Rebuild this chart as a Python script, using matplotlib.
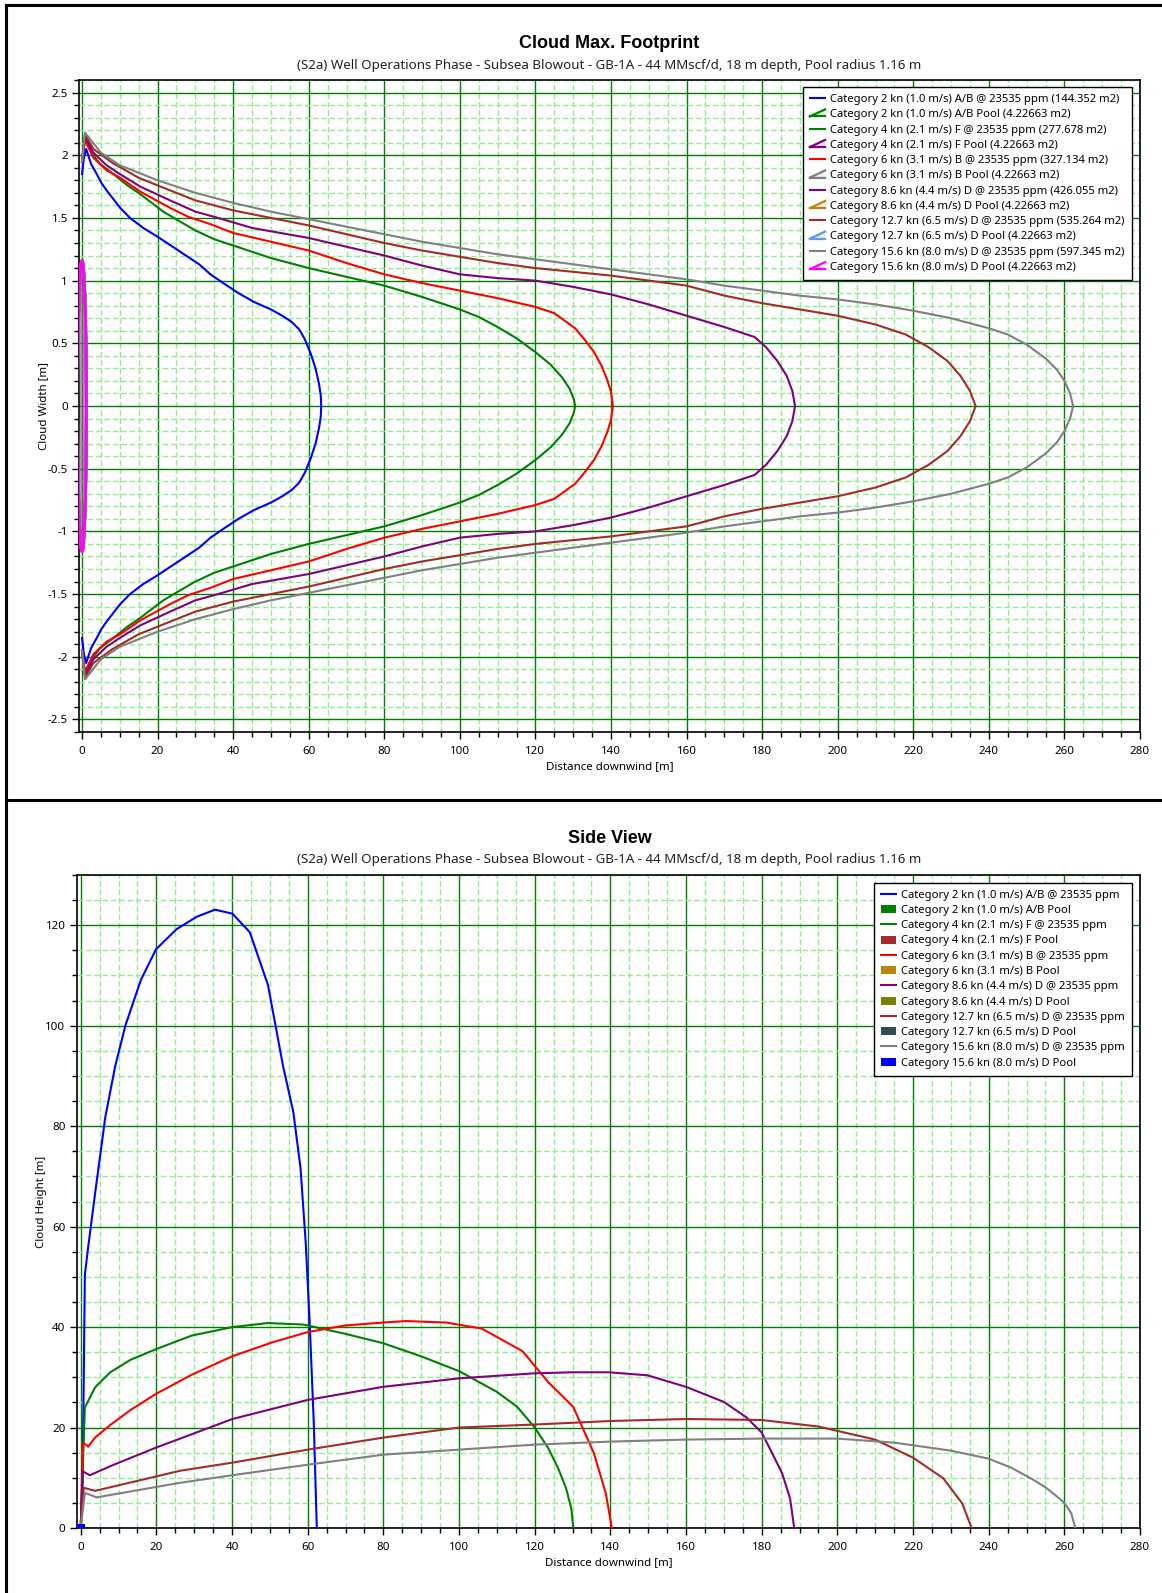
import numpy as np
import matplotlib
matplotlib.use("Agg")
import matplotlib.pyplot as plt
from matplotlib.legend_handler import HandlerBase
from matplotlib.patches import Polygon, Rectangle
from matplotlib.lines import Line2D
from matplotlib.ticker import MultipleLocator, FuncFormatter

plt.rcParams['font.family'] = ['Noto Sans', 'DejaVu Sans']

# ---------------- data ----------------
subtitle = "(S2a) Well Operations Phase - Subsea Blowout - GB-1A - 44 MMscf/d, 18 m depth, Pool radius 1.16 m"
weather = ["2 kn (1.0 m/s) A/B", "4 kn (2.1 m/s) F", "6 kn (3.1 m/s) B",
           "8.6 kn (4.4 m/s) D", "12.7 kn (6.5 m/s) D", "15.6 kn (8.0 m/s) D"]
concentration_ppm = 23535
footprint_area_m2 = ["144.352", "277.678", "327.134", "426.055", "535.264", "597.345"]
pool_area_m2 = "4.22663"
pool_radius = 1.16
pool_thickness = 0.8

plume_colors = ["#0000FF", "#008000", "#FF0000", "#800080", "#A52A2A", "#808080"]
pool_colors_plan = ["#008000", "#800080", "#808080", "#B8860B", "#6495ED", "#FF00FF"]
pool_colors_side = ["#008000", "#A52A2A", "#B8860B", "#808000", "#2F4F4F", "#0000FF"]

# Footprint half-widths (upper edge) along the downwind distance
fp_x = [
    [0, 0.5, 1.1, 2.4, 3.9, 5.1, 6.5, 8.3, 10.1, 12.7, 16.2, 20, 24, 28, 31, 34, 37.4, 41.4, 45.5, 50, 53, 55.5, 57.5, 59, 60.5, 61.8, 62.7, 63.2, 63.3],
    [0, 0.8, 2.5, 4.8, 8.3, 12, 15.4, 21.5, 26, 30, 35, 40, 50, 60, 70, 80, 90, 100, 105, 110, 115, 120, 124, 127, 129, 130.2, 130.5],
    [0, 0.8, 3, 6.5, 10.1, 15.4, 23.3, 28, 34, 40, 50, 60, 70, 80, 90, 100, 110, 120, 125, 130.5, 133, 135.5, 137.5, 139, 140, 140.5],
    [0, 0.8, 3, 6.5, 10, 15.4, 23.3, 30, 36, 45, 60, 70, 80, 90, 100, 110, 120, 130, 140, 150, 160, 170, 178, 181, 184, 186.5, 188, 188.7],
    [0, 0.8, 3, 8, 15, 23.3, 30, 40, 50, 60, 70, 80, 90, 100, 110, 120, 130, 140, 150, 160, 170, 180, 190, 200, 210, 218, 224, 229, 232.5, 235, 236.5],
    [0, 0.8, 5, 10, 20, 30, 40, 50, 60, 70, 80, 90, 100, 110, 120, 130, 140, 150, 160, 170, 180, 190, 200, 210, 220, 230, 240, 245, 250, 255, 258, 260, 261.5, 262.3],
]
fp_w = [
    [1.85, 1.98, 2.05, 1.93, 1.85, 1.78, 1.72, 1.65, 1.58, 1.50, 1.42, 1.35, 1.27, 1.19, 1.13, 1.05, 0.98, 0.90, 0.83, 0.77, 0.72, 0.67, 0.61, 0.53, 0.42, 0.30, 0.18, 0.08, 0.0],
    [1.95, 2.13, 2.02, 1.93, 1.85, 1.76, 1.69, 1.55, 1.47, 1.40, 1.33, 1.28, 1.18, 1.10, 1.03, 0.96, 0.87, 0.77, 0.71, 0.63, 0.54, 0.43, 0.33, 0.23, 0.14, 0.05, 0.0],
    [1.95, 2.12, 1.98, 1.88, 1.82, 1.71, 1.58, 1.51, 1.45, 1.38, 1.31, 1.24, 1.14, 1.05, 0.98, 0.92, 0.86, 0.79, 0.74, 0.62, 0.53, 0.43, 0.32, 0.21, 0.11, 0.0],
    [1.95, 2.15, 2.02, 1.92, 1.85, 1.75, 1.64, 1.55, 1.50, 1.42, 1.34, 1.27, 1.20, 1.12, 1.05, 1.02, 1.00, 0.95, 0.89, 0.81, 0.72, 0.63, 0.55, 0.47, 0.36, 0.24, 0.12, 0.0],
    [1.95, 2.17, 2.05, 1.94, 1.82, 1.72, 1.64, 1.56, 1.50, 1.44, 1.37, 1.30, 1.24, 1.19, 1.14, 1.10, 1.07, 1.04, 1.00, 0.96, 0.88, 0.82, 0.77, 0.72, 0.65, 0.57, 0.47, 0.36, 0.24, 0.12, 0.0],
    [1.95, 2.18, 2.02, 1.92, 1.80, 1.70, 1.62, 1.55, 1.49, 1.43, 1.37, 1.31, 1.26, 1.21, 1.17, 1.13, 1.09, 1.05, 1.01, 0.96, 0.92, 0.88, 0.85, 0.81, 0.76, 0.70, 0.62, 0.57, 0.49, 0.38, 0.29, 0.20, 0.10, 0.0],
]

# Side view: cloud height along the downwind distance
sv_x = [
    [0, 0.5, 1.1, 1.9, 3.8, 6.5, 9.1, 11.8, 15.9, 19.9, 25.3, 30.7, 35.5, 40.1, 44.7, 49.5, 53.5, 56.2, 58.1, 59.5, 60.5, 61.6, 62.4],
    [0, 1.1, 3.8, 7.8, 13.2, 19.9, 29.3, 40.1, 49.5, 58.9, 69.7, 79.9, 89.9, 100.1, 110, 115.4, 120, 123.5, 126.2, 128.3, 129.7, 130.2],
    [0, 0.6, 2.0, 3.8, 7.8, 13.2, 19.9, 29.3, 40.1, 50.8, 60, 69.7, 79.9, 86, 96.6, 106, 116.8, 123.5, 130.2, 135.6, 138.8, 140.4],
    [0, 0.5, 2.4, 7.8, 19.9, 40.1, 60, 79.9, 100.1, 120, 130, 139.6, 149.8, 160, 170, 176, 180, 182.7, 185.4, 187.5, 188.6],
    [0, 0.8, 3.8, 10, 26.3, 40, 60, 80, 100, 120, 140, 160, 180, 195, 210, 220, 228, 233, 235.5],
    [0, 1.1, 4.2, 26.3, 40, 60, 80, 100, 120, 140, 160, 180, 200, 215, 230, 240, 246, 251.8, 255, 258, 260, 261.8, 262.9],
]
sv_h = [
    [0, 8.9, 50.4, 55.5, 66.6, 81.8, 91.9, 100, 109.1, 115.2, 119.2, 121.7, 123.1, 122.3, 118.6, 108.1, 91.9, 82.8, 71.7, 56.5, 41.3, 21.1, 0],
    [0, 24.0, 28.0, 31.0, 33.5, 35.6, 38.3, 40.0, 40.8, 40.5, 38.7, 36.8, 34.2, 31.2, 27.1, 24.1, 20.0, 16.0, 11.9, 7.9, 3.8, 0],
    [0, 17.0, 16.2, 18.0, 20.5, 23.5, 26.7, 30.5, 34.2, 37.0, 39.0, 40.3, 40.9, 41.2, 40.9, 39.7, 35.2, 29.1, 24.1, 15.0, 6.9, 0],
    [0, 11.3, 10.5, 12.3, 16.0, 21.7, 25.5, 28.1, 29.8, 30.8, 31.0, 31.0, 30.4, 28.1, 25.1, 22.0, 19.0, 15.0, 10.9, 5.9, 0],
    [0, 8.0, 7.4, 8.5, 11.4, 13.0, 15.6, 18.0, 20.0, 20.6, 21.3, 21.7, 21.5, 20.2, 17.6, 14.0, 9.9, 4.9, 0],
    [0, 7.0, 6.1, 9.0, 10.5, 12.6, 14.6, 15.6, 16.6, 17.2, 17.6, 17.8, 17.8, 17.0, 15.4, 13.8, 12.0, 9.6, 8.1, 6.3, 5.0, 3.0, 0],
]


# ---------------- legend handlers ----------------
class HandlerPoolArea(HandlerBase):
    """Small wedge icon used for pool outlines in the plan view legend."""
    def create_artists(self, legend, orig_handle, xdescent, ydescent,
                       width, height, fontsize, trans):
        c = orig_handle.get_color()
        x0, x1 = -xdescent, -xdescent + width
        yb = -ydescent + 0.1 * height
        yt = -ydescent + 1.0 * height
        tri = Polygon([[x0, yb], [x1, yb], [x1, yt]], closed=True, facecolor=c,
                      alpha=0.12, edgecolor='none', transform=trans)
        top = Line2D([x0, x1], [yb, yt], color=c, lw=1.6, transform=trans)
        bot = Line2D([x0, x1], [yb, yb], color=c, lw=1.6, transform=trans)
        return [tri, top, bot]


num_fmt = FuncFormatter(lambda v, p: f"{v:g}")


def style_axes(ax, xmin, xmax, ymin, ymax, ymajor, yminor):
    ax.set_xlim(xmin, xmax)
    ax.set_ylim(ymin, ymax)
    ax.xaxis.set_major_locator(MultipleLocator(20))
    ax.xaxis.set_minor_locator(MultipleLocator(5))
    ax.yaxis.set_major_locator(MultipleLocator(ymajor))
    ax.yaxis.set_minor_locator(MultipleLocator(yminor))
    ax.yaxis.set_major_formatter(num_fmt)
    ax.xaxis.set_major_formatter(num_fmt)
    ax.grid(which='minor', color='#90EE90', linestyle=(0, (4, 2)), linewidth=1.0, zorder=0)
    ax.grid(which='major', color='#008000', linestyle='-', linewidth=1.0, zorder=0)
    ax.set_axisbelow(True)
    ax.tick_params(which='both', direction='out', labelsize=8.3, color='black')
    ax.tick_params(axis='x', which='both', pad=5)
    ax.tick_params(axis='y', which='both', pad=3)
    ax.tick_params(which='major', length=5, width=1)
    ax.tick_params(which='minor', length=3.5, width=1)
    for s in ax.spines.values():
        s.set_color('black')
        s.set_linewidth(1.2)


W, H = 1162, 1593
fig = plt.figure(figsize=(W / 100, H / 100), dpi=100)
fig.patch.set_facecolor('white')
title_font = dict(family=['Liberation Sans', 'DejaVu Sans'], fontweight='bold', fontsize=13)
leg_kw = dict(loc='upper right', fontsize=8.1, frameon=True, fancybox=False, edgecolor='black',
              framealpha=1, handlelength=1.35, handletextpad=0.45, labelspacing=0.38,
              borderpad=0.62, borderaxespad=0)

# ---------------- plan view ----------------
ax1 = fig.add_axes([79 / W, 1 - 732 / H, (1140 - 79) / W, (732 - 80) / H])
style_axes(ax1, -0.8, 280, -2.6, 2.6, 0.5, 0.1)

handles1 = []
t = np.linspace(0, 2 * np.pi, 200)
for i, name in enumerate(weather):
    x = np.array(fp_x[i], dtype=float)
    w = np.array(fp_w[i], dtype=float)
    xs = np.concatenate([x, x[::-1][1:]])
    ys = np.concatenate([w, -w[::-1][1:]])
    ln, = ax1.plot(xs, ys, color=plume_colors[i], lw=1.5, zorder=3,
                   label=f"Category {name} @ {concentration_ppm} ppm ({footprint_area_m2[i]} m2)")
    handles1.append(ln)
    pc = pool_colors_plan[i]
    px = pool_radius * np.cos(t)
    py = pool_radius * np.sin(t)
    ax1.fill(px, py, color=pc, alpha=0.15, lw=0, zorder=2)
    pl, = ax1.plot(px, py, color=pc, lw=2.0, zorder=4,
                   label=f"Category {name} Pool ({pool_area_m2} m2)")
    handles1.append(pl)

hmap = {h: HandlerPoolArea() for h in handles1[1::2]}
leg1 = ax1.legend(handles=handles1, bbox_to_anchor=(1 - 8.4 / 1061, 1 - 7 / 652),
                  handler_map=hmap, **leg_kw)
leg1.get_frame().set_linewidth(1.0)

ax1.set_xlabel("Distance downwind [m]", fontsize=8.3, labelpad=3)
ax1.set_ylabel("Cloud Width [m]", fontsize=8.3, labelpad=-1)
fig.text(609.5 / W, 1 - 43 / H, "Cloud Max. Footprint", ha='center', va='center', **title_font)
fig.text(609.5 / W, 1 - 65.5 / H, subtitle, ha='center', va='center', fontsize=9.6, color='#222222')

# ---------------- side view ----------------
ax2 = fig.add_axes([76.7 / W, 1 - 1528 / H, (1140 - 76.7) / W, (1528 - 875) / H])
style_axes(ax2, -1.06, 280, 0, 130, 20, 5)

handles2 = []
for i, name in enumerate(weather):
    ln, = ax2.plot(sv_x[i], sv_h[i], color=plume_colors[i], lw=1.5, zorder=3,
                   label=f"Category {name} @ {concentration_ppm} ppm")
    handles2.append(ln)
    rect = Rectangle((-pool_radius, 0), 2 * pool_radius, pool_thickness,
                     facecolor=pool_colors_side[i], edgecolor='none', zorder=4,
                     label=f"Category {name} Pool")
    ax2.add_patch(rect)
    handles2.append(rect)

leg2 = ax2.legend(handles=handles2, bbox_to_anchor=(1 - 8.4 / 1063, 1 - 7.7 / 653), **leg_kw)
leg2.get_frame().set_linewidth(1.0)

ax2.set_xlabel("Distance downwind [m]", fontsize=8.3, labelpad=3)
ax2.set_ylabel("Cloud Height [m]", fontsize=8.3, labelpad=-1)
fig.text(609.5 / W, 1 - 838 / H, "Side View", ha='center', va='center', **title_font)
fig.text(609.5 / W, 1 - 860 / H, subtitle, ha='center', va='center', fontsize=9.6, color='#222222')

# ---------------- panel frames ----------------
frame_kw = dict(color='black', lw=2.2, transform=fig.transFigure, clip_on=False)
fig.add_artist(Line2D([6 / W, 6 / W], [0, 1 - 5 / H], **frame_kw))
fig.add_artist(Line2D([6 / W, 1], [1 - 5 / H, 1 - 5 / H], **frame_kw))
fig.add_artist(Line2D([6 / W, 1], [1 - 800 / H, 1 - 800 / H], **frame_kw))

fig.savefig("out.png", dpi=100, facecolor='white')
